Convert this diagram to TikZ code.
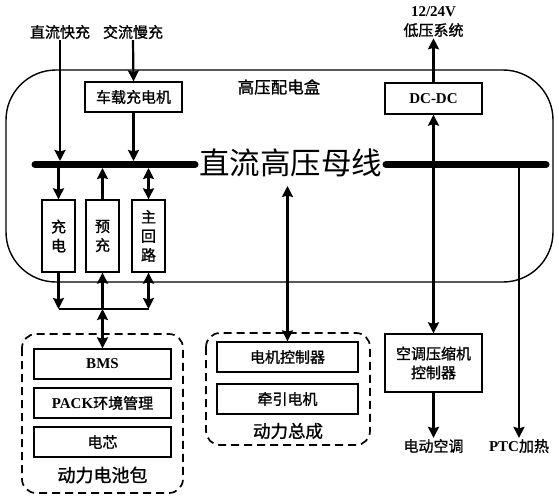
\documentclass[tikz,border=0pt]{standalone}
\usepackage{fontspec}
\setmainfont{Liberation Serif}
\newfontfamily\cjk[FakeBold=1.2]{Noto Sans CJK SC}
\newfontfamily\cjkthin{Noto Sans CJK SC}
\usetikzlibrary{arrows.meta}
\tikzset{
  tip/.tip={Stealth[length=11pt,width=11pt,inset=1.5pt]},
  arr/.style={line width=2.2pt,-tip},
  darr/.style={line width=2.2pt,tip-tip},
  blk/.style={draw,line width=1.3pt,minimum width=#1,minimum height=30pt,inner sep=0pt,font=\cjk\fontsize{15}{15}\selectfont},
  vblk/.style={draw,line width=1.3pt,minimum width=33pt,minimum height=72pt,inner sep=0pt,align=center,font=\cjk\fontsize{15}{19}\selectfont},
  lbl/.style={inner sep=1pt,font=\cjk\fontsize{15}{15}\selectfont},
  grp/.style={draw,line width=1.7pt,dash pattern=on 8pt off 5pt,rounded corners=14pt},
  busline/.style={line width=7pt,line cap=round},
}
\begin{document}
\begin{tikzpicture}[x=1pt,y=-1pt]
\useasboundingbox (0,0) rectangle (559,500);
% outer box
\draw[line width=1.4pt,rounded corners=50pt] (6,70) rectangle (553,282);
\node[font=\cjk\fontsize{16.5}{16.5}\selectfont] (hvbox) at (279,87) {高压配电盒};
% inputs
\node[lbl] (dcfast) at (60,32) {直流快充};
\node[lbl] (acslow) at (133,32) {交流慢充};
\node[blk=97pt] (obc) at (133.5,97) {车载充电机};
% bus
\coordinate (busL1) at (35,164.5);
\coordinate (busL2) at (195,164.5);
\coordinate (busR1) at (386,164.5);
\coordinate (busR2) at (546,164.5);
\draw[busline] (busL1) -- (busL2);
\draw[busline] (busR1) -- (busR2);
\node[inner sep=0pt,font=\cjkthin\fontsize{30.5}{30.5}\selectfont] (bustxt) at (290.5,162.5) {直流高压母线};
% contactor boxes
\node[vblk] (cd) at (58.5,236) {充\\电};
\node[vblk] (yc) at (102.5,236) {预\\充};
\node[vblk] (zh) at (148.5,236) {主\\回\\路};
\coordinate (t1) at (60,161);
\coordinate (t2) at (133.5,161);
\coordinate (b1) at (58.5,168);
\coordinate (b2) at (102.5,168);
\coordinate (b3) at (148.5,168);
\draw[arr] (dcfast.south) -- (t1);
\draw[arr] (acslow.south) -- (obc.north);
\draw[arr] (obc.south) -- (t2);
\draw[arr] (b1) -- (cd.north);
\draw[arr] (yc.north) -- (b2);
\draw[darr] (b3) -- (zh.north);
% lower join
\coordinate (j1) at (58.5,309);
\coordinate (j2) at (102.5,309);
\coordinate (j3) at (148.5,309);
\draw[line width=1.8pt] (j1) -- (j3);
\draw[arr] (cd.south) -- (j1);
\draw[arr] (j2) -- (yc.south);
\draw[darr] (j3) -- (zh.south);
% battery pack
\draw[grp] (22,334) rectangle (183,493);
\node[blk=137pt,font=\bfseries\fontsize{15}{15}\selectfont] (bms) at (102.5,364) {BMS};
\node[blk=137pt,font=\fontsize{15}{15}\selectfont] (pack) at (102.5,403) {\textbf{PACK}{\cjk 环境管理}};
\node[blk=137pt] (cell) at (102.5,442) {电芯};
\node[font=\cjk\fontsize{18}{18}\selectfont] (packlbl) at (102.5,475) {动力电池包};
\draw[darr] (j2) -- (bms.north);
% powertrain
\draw[grp] (206,333) rectangle (370,445);
\node[blk=141pt] (mc) at (287.5,357) {电机控制器};
\node[blk=141pt] (tm) at (287.5,399) {牵引电机};
\node[font=\cjk\fontsize{17.5}{17.5}\selectfont] (ptlbl) at (288,431) {动力总成};
\coordinate (m1) at (287.5,186);
\draw[darr] (m1) -- (mc.north);
% DC-DC
\node[blk=97pt,minimum height=31pt,font=\bfseries\fontsize{15}{15}\selectfont] (dcdc) at (433.5,98.5) {DC-DC};
\node[align=center,inner sep=1pt,font=\fontsize{15}{19}\selectfont] (lv) at (433.5,22) {\textbf{12/24V}\\{\cjk 低压系统}};
\coordinate (d1) at (433.5,164.5);
\draw[arr] (dcdc.north) -- (lv.south);
\draw[arr] (d1) -- (dcdc.south);
% AC compressor
\node[blk=97pt,minimum height=58pt,align=center,font=\cjk\fontsize{15}{19}\selectfont] (ac) at (433.5,363) {空调压缩机\\控制器};
\draw[arr] (d1) -- (ac.north);
\node[lbl] (eac) at (433.5,446) {电动空调};
\draw[arr] (ac.south) -- (eac.north);
% PTC
\coordinate (p1) at (519,164.5);
\node[inner sep=1pt,font=\fontsize{15}{15}\selectfont] (ptc) at (519,446) {\textbf{PTC}{\cjk 加热}};
\draw[arr] (p1) -- (ptc.north);
\end{tikzpicture}
\end{document}
